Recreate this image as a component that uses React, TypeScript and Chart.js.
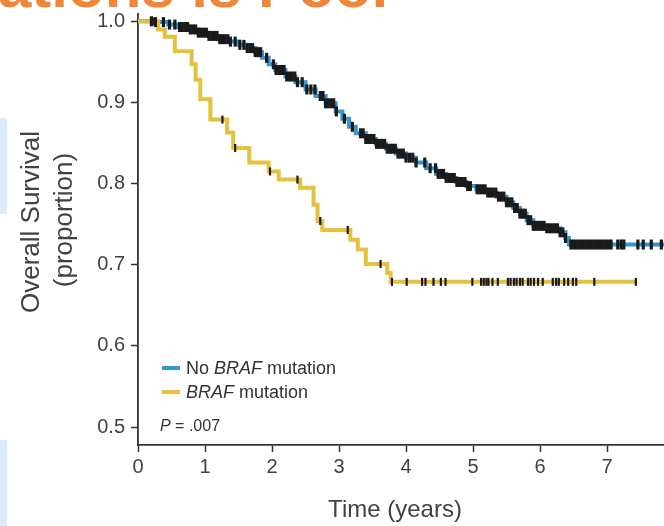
import React, { useEffect, useRef } from 'react';
import { Chart, registerables } from 'chart.js';

Chart.register(...registerables);

// Axis ticks
const xTicks = [0, 1, 2, 3, 4, 5, 6, 7];
const yTicks = [0.5, 0.6, 0.7, 0.8, 0.9, 1.0];

// Kaplan–Meier curve, no BRAF mutation (time in years, survival proportion)
const noBrafYears = [
  0, 0.25, 0.45, 0.6, 0.75, 0.9, 1.05, 1.2, 1.35, 1.5, 1.62, 1.75, 1.85, 1.95,
  2.05, 2.2, 2.35, 2.5, 2.65, 2.8, 2.95, 3.05, 3.15, 3.25, 3.4, 3.55, 3.7, 3.85,
  4.0, 4.15, 4.3, 4.45, 4.6, 4.75, 4.9, 5.05, 5.2, 5.35, 5.5, 5.6, 5.7, 5.8, 5.9,
  6.1, 6.3, 6.38, 6.43, 7.85,
];
const noBrafSurvival = [
  1.0, 0.999, 0.996, 0.993, 0.99, 0.986, 0.982, 0.978, 0.975, 0.971, 0.967, 0.962, 0.955, 0.947,
  0.94, 0.932, 0.925, 0.916, 0.908, 0.899, 0.889, 0.88, 0.87, 0.862, 0.855, 0.849, 0.843, 0.837,
  0.832, 0.826, 0.819, 0.812, 0.807, 0.802, 0.797, 0.793, 0.789, 0.784, 0.777, 0.77, 0.763, 0.755, 0.748,
  0.745, 0.74, 0.733, 0.725, 0.725,
];

// Kaplan–Meier curve, BRAF mutation
const brafYears = [
  0, 0.3, 0.4, 0.55, 0.8, 0.86, 0.93, 1.08, 1.33, 1.42, 1.66, 1.95, 2.1, 2.42,
  2.62, 2.68, 2.75, 3.17, 3.28, 3.4, 3.72, 3.77, 7.43,
];
const brafSurvival = [
  1.0, 0.99, 0.981, 0.963, 0.947, 0.928, 0.904, 0.879, 0.863, 0.844, 0.826, 0.815, 0.805, 0.795,
  0.774, 0.754, 0.743, 0.731, 0.719, 0.701, 0.69, 0.679, 0.679,
];

// Censoring times (years)
const noBrafCensorYears = [
  0.2, 0.26, 0.38, 0.47, 0.55,
  0.62, 0.66, 0.7, 0.74, 0.78, 0.82, 0.86, 0.9, 0.94, 0.98, 1.02, 1.06, 1.1, 1.14, 1.18, 1.22, 1.26, 1.3, 1.34, 1.38,
  1.45, 1.52, 1.58,
  1.63, 1.67, 1.71, 1.75, 1.79, 1.83, 1.92,
  2.02, 2.06, 2.1, 2.14, 2.18, 2.22, 2.26, 2.3, 2.34, 2.38,
  2.45, 2.52, 2.58, 2.64,
  2.72, 2.76, 2.8, 2.84, 2.88, 2.92, 2.96,
  3.08, 3.2,
  3.32, 3.36, 3.4, 3.44, 3.48, 3.52, 3.56, 3.6, 3.64, 3.68, 3.72, 3.76, 3.8, 3.84, 3.88, 3.92, 3.96, 4.0, 4.05, 4.1, 4.15,
  4.28, 4.36,
  4.44, 4.48, 4.52, 4.56, 4.6, 4.64, 4.68, 4.72, 4.76, 4.8, 4.84, 4.88, 4.92, 4.96,
  5.06, 5.1, 5.14, 5.18, 5.22, 5.26, 5.3, 5.34, 5.38, 5.42, 5.46, 5.5, 5.54, 5.58, 5.62, 5.66, 5.7, 5.74,
  5.78, 5.82, 5.86, 5.9, 5.94, 5.98, 6.02, 6.06, 6.1, 6.14, 6.18, 6.22, 6.26, 6.3, 6.34, 6.38,
  6.46, 6.5, 6.54, 6.58, 6.62, 6.66, 6.7, 6.74, 6.78, 6.82, 6.86, 6.9, 6.94, 6.98, 7.02, 7.06,
  7.16, 7.21, 7.25, 7.46, 7.54, 7.66, 7.81,
];
const brafCensorYears = [
  0.22, 1.26, 1.45, 1.97, 2.38, 2.72, 3.13, 3.62,
  3.79, 4.01, 4.24, 4.29, 4.41, 4.52, 4.59, 4.99, 5.12, 5.16, 5.2, 5.23, 5.29, 5.37,
  5.52, 5.56, 5.61, 5.65, 5.7, 5.74, 5.82, 5.86, 5.91, 5.97, 6.04, 6.19, 6.24, 6.28,
  6.36, 6.42, 6.49, 6.54, 6.81, 7.43,
];

const BLUE = '#3497d2';
const YELLOW = '#e4c23e';
const TICK_BLACK = '#1a1a1a';
const AXIS = '#333333';
const TEXT = '#424242';
const FONT = '"Liberation Sans", Arial, Helvetica, sans-serif';

const yTitleLines = ['Overall Survival', '(proportion)'];
const xTitle = 'Time (years)';
const pValueLabel = '.007';

type Part = [string, boolean];
const legendRows: { color: string; parts: Part[] }[] = [
  { color: BLUE, parts: [['No ', false], ['BRAF', true], [' mutation', false]] },
  { color: YELLOW, parts: [['BRAF', true], [' mutation', false]] },
];

function survivalAt(years: number[], surv: number[], t: number) {
  let s = surv[0];
  for (let i = 0; i < years.length; i++) {
    if (years[i] <= t) s = surv[i];
  }
  return s;
}

function drawParts(ctx: CanvasRenderingContext2D, parts: Part[], x: number, y: number, size: number) {
  let cx = x;
  for (const [text, italic] of parts) {
    ctx.font = `${italic ? 'italic ' : ''}${size}px ${FONT}`;
    ctx.fillText(text, cx, y);
    cx += ctx.measureText(text).width;
  }
}

const textLayer = {
  id: 'textLayer',
  afterDraw(chart: any) {
    const ctx: CanvasRenderingContext2D = chart.ctx;
    const area = chart.chartArea;
    ctx.save();
    ctx.fillStyle = TEXT;

    // y-axis title, two rotated lines
    ctx.textAlign = 'center';
    ctx.textBaseline = 'middle';
    ctx.font = `26px ${FONT}`;
    ctx.save();
    ctx.translate(32, 222);
    ctx.rotate(-Math.PI / 2);
    ctx.fillText(yTitleLines[0], 0, 0);
    ctx.restore();
    ctx.save();
    ctx.translate(65, 220);
    ctx.rotate(-Math.PI / 2);
    ctx.fillText(yTitleLines[1], 0, 0);
    ctx.restore();

    // x-axis title
    ctx.font = `24px ${FONT}`;
    ctx.fillText(xTitle, 395, 510);

    // legend inside plot
    ctx.textAlign = 'left';
    ctx.textBaseline = 'alphabetic';
    legendRows.forEach((row, i) => {
      const y = area.bottom - 77 + i * 24;
      ctx.strokeStyle = row.color;
      ctx.lineWidth = 4;
      ctx.beginPath();
      ctx.moveTo(area.left + 24, y);
      ctx.lineTo(area.left + 42, y);
      ctx.stroke();
      ctx.fillStyle = '#333';
      drawParts(ctx, row.parts, area.left + 48, y + 6, 18);
    });
    drawParts(ctx, [['P', true], [' = ' + pValueLabel, false]], area.left + 22, area.bottom - 14, 16);
    ctx.restore();
  },
};

export default function App() {
  const canvasRef = useRef<HTMLCanvasElement | null>(null);

  useEffect(() => {
    const canvas = canvasRef.current;
    if (!canvas) return;

    const noBrafLine = noBrafYears.map((t, i) => ({ x: t, y: noBrafSurvival[i] }));
    const brafLine = brafYears.map((t, i) => ({ x: t, y: brafSurvival[i] }));
    const noBrafCensor = noBrafCensorYears.map((t) => ({ x: t, y: survivalAt(noBrafYears, noBrafSurvival, t) }));
    const brafCensor = brafCensorYears.map((t) => ({ x: t, y: survivalAt(brafYears, brafSurvival, t) }));

    const chart = new Chart(canvas, {
      type: 'line',
      data: {
        datasets: [
          {
            label: 'BRAF censored',
            data: brafCensor,
            showLine: false,
            pointStyle: 'line',
            pointRotation: 90,
            pointRadius: 4,
            pointBorderWidth: 2.2,
            pointBorderColor: TICK_BLACK,
            pointBackgroundColor: TICK_BLACK,
          },
          {
            label: 'No BRAF censored',
            data: noBrafCensor,
            showLine: false,
            pointStyle: 'line',
            pointRotation: 90,
            pointRadius: 5,
            pointBorderWidth: 3.2,
            pointBorderColor: TICK_BLACK,
            pointBackgroundColor: TICK_BLACK,
          },
          {
            label: 'BRAF mutation',
            data: brafLine,
            stepped: 'before',
            borderColor: YELLOW,
            borderWidth: 4,
            pointRadius: 0,
            fill: false,
          },
          {
            label: 'No BRAF mutation',
            data: noBrafLine,
            stepped: 'before',
            borderColor: BLUE,
            borderWidth: 4,
            pointRadius: 0,
            fill: false,
          },
        ],
      },
      options: {
        animation: false,
        responsive: false,
        devicePixelRatio: 1,
        layout: { autoPadding: false, padding: { top: 14, left: 0, right: 0, bottom: 0 } },
        plugins: {
          legend: { display: false },
          tooltip: { enabled: false },
        },
        scales: {
          x: {
            type: 'linear',
            min: 0,
            max: 7.85,
            afterBuildTicks: (s: any) => {
              s.ticks = xTicks.map((v) => ({ value: v }));
            },
            afterFit: (s: any) => {
              s.height = 81;
              s.paddingLeft = 0;
              s.paddingRight = 0;
            },
            grid: {
              drawOnChartArea: false,
              drawTicks: true,
              tickLength: 7,
              tickColor: AXIS,
              tickWidth: 1.5,
            },
            border: { display: true, color: AXIS, width: 1.8 },
            ticks: {
              color: TEXT,
              font: { family: FONT, size: 20 },
              padding: 3,
              maxRotation: 0,
              autoSkip: false,
              callback: (v: any) => String(v),
            },
          },
          y: {
            type: 'linear',
            min: 0.478,
            max: 1.009,
            afterBuildTicks: (s: any) => {
              s.ticks = yTicks.map((v) => ({ value: v }));
            },
            afterFit: (s: any) => {
              s.width = 138;
              s.paddingTop = 0;
              s.paddingBottom = 0;
            },
            grid: {
              drawOnChartArea: false,
              drawTicks: true,
              tickLength: 7,
              tickColor: AXIS,
              tickWidth: 1.5,
            },
            border: { display: true, color: AXIS, width: 1.8 },
            ticks: {
              color: TEXT,
              font: { family: FONT, size: 20 },
              padding: 6,
              autoSkip: false,
              callback: (v: any) => Number(v).toFixed(1),
            },
          },
        },
      },
      plugins: [textLayer],
    });

    return () => chart.destroy();
  }, []);

  return (
    <div
      style={{
        position: 'absolute',
        left: 0,
        top: 0,
        width: 664,
        height: 526,
        overflow: 'hidden',
        background: '#ffffff',
      }}
    >
      <div style={{ position: 'absolute', left: 0, top: 118, width: 7, height: 96, background: '#dcedf9' }} />
      <div style={{ position: 'absolute', left: 0, top: 440, width: 7, height: 86, background: '#dcedf9' }} />
      <canvas ref={canvasRef} width={664} height={526} style={{ position: 'absolute', left: 0, top: 0 }} />
      <div
        style={{
          position: 'absolute',
          left: -2,
          top: -43,
          fontFamily: FONT,
          fontWeight: 700,
          fontSize: 60,
          lineHeight: '60px',
          color: '#ef873a',
          whiteSpace: 'nowrap',
        }}
      >
        ations is Poor
      </div>
    </div>
  );
}
